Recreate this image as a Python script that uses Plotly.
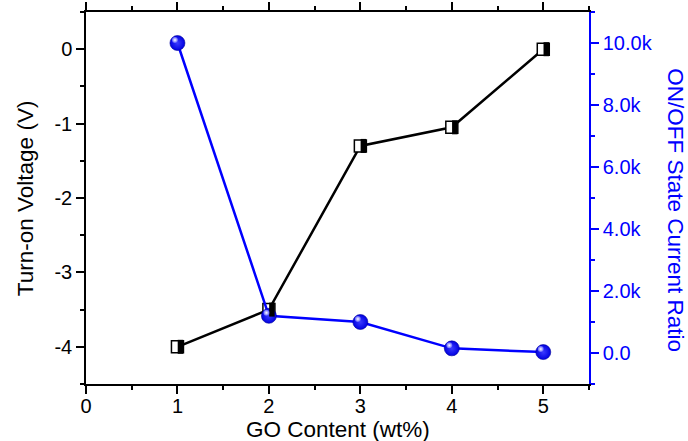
import plotly.graph_objects as go

# GO loading (wt%) of each device
go_content = [1, 2, 3, 4, 5]
# Turn-on voltage (V), left axis
turn_on_voltage = [-4.0, -3.5, -1.3, -1.05, 0.0]
# ON/OFF state current ratio, right axis
on_off_ratio = [10000, 1200, 1000, 150, 30]

x_ticks = [0, 1, 2, 3, 4, 5]
v_ticks = [0, -1, -2, -3, -4]
v_tick_text = ["0", "-1", "-2", "-3", "-4"]
r_ticks = [0, 2000, 4000, 6000, 8000, 10000]
r_tick_text = ["0.0", "2.0k", "4.0k", "6.0k", "8.0k", "10.0k"]

FONT = "Liberation Sans, Arial, sans-serif"
BLUE = "#0000ff"
TITLE_SIZE = 22.5

X_RANGE = [0, 5.5]
Y2_RANGE = [-1000, 11000]
M_L, M_R, M_T, M_B = 86, 99, 12, 57
PLOT_W = 688 - M_L - M_R
PLOT_H = 441 - M_T - M_B


def px_x(p):
    return p / PLOT_W * (X_RANGE[1] - X_RANGE[0])


def px_y2(p):
    return p / PLOT_H * (Y2_RANGE[1] - Y2_RANGE[0])


fig = go.Figure()

# voltage curve with white square markers
fig.add_trace(go.Scatter(
    x=go_content, y=turn_on_voltage, mode="lines+markers",
    line=dict(color="black", width=2.5),
    marker=dict(symbol="square", size=12, color="white",
                line=dict(color="black", width=1.5)),
    xaxis="x", yaxis="y", showlegend=False, hoverinfo="skip",
))
# right half of each square filled black (overlay axis shifted 3 px)
fig.add_trace(go.Scatter(
    x=go_content, y=turn_on_voltage, mode="markers",
    marker=dict(symbol="line-ns", size=10, color="black",
                line=dict(color="black", width=5.5)),
    xaxis="x2", yaxis="y", showlegend=False, hoverinfo="skip",
))
# ON/OFF ratio curve with blue spheres
fig.add_trace(go.Scatter(
    x=go_content, y=on_off_ratio, mode="lines+markers",
    line=dict(color=BLUE, width=2.5),
    marker=dict(symbol="circle", size=15, color="#0000e0",
                gradient=dict(type="radial", color="#3a3aff"),
                line=dict(color="#00009a", width=0.6)),
    xaxis="x", yaxis="y2", showlegend=False, hoverinfo="skip",
))
# specular highlight on each sphere (up-left of centre)
fig.add_trace(go.Scatter(
    x=go_content, y=on_off_ratio, mode="markers",
    marker=dict(symbol="circle", size=6, color="#5a5aff",
                gradient=dict(type="radial", color="#ffffff"),
                line=dict(width=0)),
    xaxis="x3", yaxis="y3", showlegend=False, hoverinfo="skip",
))

axis_font = dict(family=FONT, size=20, color="black")
dx3, dy3 = px_x(2.5), px_y2(3)

fig.update_layout(
    width=688, height=441,
    margin=dict(l=M_L, r=M_R, t=M_T, b=M_B, autoexpand=False),
    paper_bgcolor="white", plot_bgcolor="white",
    font=dict(family=FONT, size=20, color="black"),
    xaxis=dict(
        range=X_RANGE, tickvals=x_ticks, showgrid=False, zeroline=False,
        automargin=False, ticklabelstandoff=-5,
        showline=True, linecolor="black", linewidth=1.5, mirror="ticks",
        ticks="outside", ticklen=8, tickwidth=1.5, tickcolor="black",
        minor=dict(dtick=0.5, ticks="outside", ticklen=4, tickwidth=1.5,
                   tickcolor="black", showgrid=False),
        tickfont=axis_font,
    ),
    xaxis2=dict(
        range=[X_RANGE[0] - px_x(3), X_RANGE[1] - px_x(3)], overlaying="x",
        visible=False, showgrid=False, zeroline=False, automargin=False,
    ),
    xaxis3=dict(
        range=[X_RANGE[0] + dx3, X_RANGE[1] + dx3], overlaying="x",
        visible=False, showgrid=False, zeroline=False, automargin=False,
    ),
    yaxis=dict(
        range=[-4.5, 0.5], tickvals=v_ticks, ticktext=v_tick_text,
        showgrid=False, zeroline=False, automargin=False,
        showline=True, linecolor="black", linewidth=1.5,
        ticks="outside", ticklen=8, tickwidth=1.5, tickcolor="black",
        minor=dict(dtick=0.5, ticks="outside", ticklen=4, tickwidth=1.5,
                   tickcolor="black", showgrid=False),
        tickfont=axis_font,
    ),
    yaxis2=dict(
        range=Y2_RANGE, overlaying="y", side="right",
        tickvals=r_ticks, ticktext=r_tick_text,
        showgrid=False, zeroline=False, automargin=False,
        showline=True, linecolor=BLUE, linewidth=1.5,
        ticks="outside", ticklen=8, tickwidth=1.5, tickcolor=BLUE,
        minor=dict(dtick=1000, ticks="outside", ticklen=4, tickwidth=1.5,
                   tickcolor=BLUE, showgrid=False),
        tickfont=dict(family=FONT, size=20, color=BLUE),
    ),
    yaxis3=dict(
        range=[Y2_RANGE[0] - dy3, Y2_RANGE[1] - dy3], overlaying="y",
        visible=False, showgrid=False, zeroline=False, automargin=False,
    ),
    annotations=[
        dict(text="GO Content (wt%)", xref="paper", yref="paper",
             x=0.5, y=-0.084, xanchor="center", yanchor="top",
             showarrow=False,
             font=dict(family=FONT, size=TITLE_SIZE, color="black")),
        dict(text="Turn-on Voltage (V)", xref="paper", yref="paper",
             x=-0.121, y=0.5, xanchor="center", yanchor="middle",
             textangle=-90, showarrow=False,
             font=dict(family=FONT, size=TITLE_SIZE, color="black")),
        dict(text="ON/OFF State Current Ratio", xref="paper", yref="paper",
             x=1.173, y=0.467, xanchor="center", yanchor="middle",
             textangle=90, showarrow=False,
             font=dict(family=FONT, size=TITLE_SIZE, color=BLUE)),
    ],
)

fig.write_html("out.html")
